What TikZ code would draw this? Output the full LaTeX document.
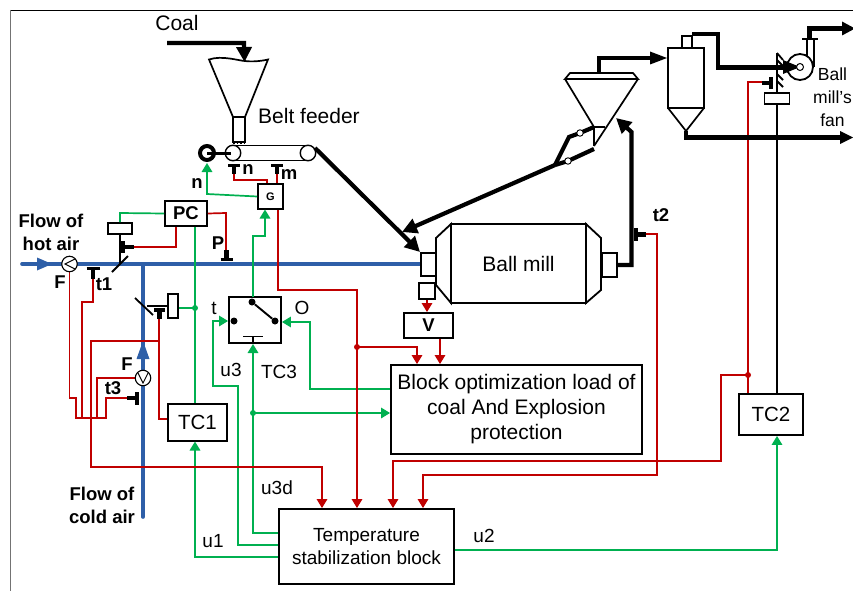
\documentclass[tikz,border=0pt]{standalone}
\usepackage{fontspec}
\setmainfont{Liberation Sans}
\usetikzlibrary{arrows.meta}
\definecolor{rd}{HTML}{C00000}
\definecolor{gn}{HTML}{00B050}
\definecolor{bl}{HTML}{2E5FA8}
\tikzset{
  fs/.style={font=\fontsize{19}{23}\selectfont},
  fl/.style={font=\fontsize{21}{25}\selectfont},
  fb/.style={font=\fontsize{18.5}{23}\selectfont\bfseries},
  lbl/.style={inner sep=0pt,align=center},
  box/.style={draw=black,line width=1.9pt,fill=white,inner sep=0pt,align=center},
  gp/.style={draw=black,line width=1.5pt},
  thick line/.style={draw=black,line width=4.2pt,line join=miter},
  rsig/.style={draw=rd,line width=1.7pt},
  gsig/.style={draw=gn,line width=1.7pt},
  bsig/.style={draw=bl,line width=3.6pt,line cap=round},
  rarr/.style={rsig,-{Triangle[length=9pt,width=10.5pt,fill=rd]}},
  garr/.style={gsig,-{Triangle[length=9pt,width=10.5pt,fill=gn]}},
  tarr/.style={thick line,-{Triangle[length=15pt,width=15pt,fill=black]}},
  sbar/.style={draw=black,line width=3.6pt},
  sstem/.style={draw=black,line width=4.2pt},
  gdot/.style={circle,fill=gn,inner sep=0pt,minimum size=6pt},
  rdot/.style={circle,fill=rd,inner sep=0pt,minimum size=6pt},
  kdot/.style={circle,fill=black,inner sep=0pt,minimum size=7pt},
  meter/.style={circle,draw=black,line width=1.1pt,fill=white,minimum size=15.5pt,inner sep=0pt},
}
\begin{document}
\begin{tikzpicture}[x=1pt,y=-1pt]
\useasboundingbox (0,0) rectangle (853,591);
% frame
\draw[black,line width=1pt] (10,10.5) -- (853,10.5);
\draw[black!55,line width=1pt] (10.5,10) -- (10.5,591);

% named boxes
\node[box,minimum width=42pt,minimum height=25pt,font=\fontsize{18.5}{22}\selectfont\bfseries] (pc) at (186,213.5) {PC};
\node[box,minimum width=25pt,minimum height=25pt,font=\fontsize{11}{13}\selectfont\bfseries] (g) at (270.5,196.5) {G};
\node[box,minimum width=59pt,minimum height=37pt,font=\fontsize{20.5}{24}\selectfont] (tc1) at (197.5,422.5) {TC1};
\node[box,minimum width=64pt,minimum height=41pt,font=\fontsize{20.5}{24}\selectfont] (tc2) at (771,414.5) {TC2};
\node[box,minimum width=52pt,minimum height=46pt] (sw) at (255,320) {};
\node[box,fs,minimum width=175pt,minimum height=75pt] (tsb) at (366.5,546.5) {Temperature\\stabilization block};
\node[box,fl,minimum width=251pt,minimum height=89pt] (opt) at (516.5,409.5) {Block optimization load of\\coal And Explosion\\protection};
\node[box,fb,minimum width=49pt,minimum height=25pt] (v) at (428.5,325.5) {V};
\node[box,minimum width=16pt,minimum height=16pt] (sq) at (427,291) {};
\node[box,minimum width=24pt,minimum height=11pt] (act1) at (120,228.5) {};
\node[box,minimum width=10pt,minimum height=24pt] (act2) at (173,306) {};
\node[box,minimum width=25pt,minimum height=11pt] (act3) at (777,98.5) {};

% named attachment points
\coordinate (f1) at (69.5,264);
\coordinate (f2) at (143,378);
\coordinate (d1) at (195,308);
\coordinate (d2) at (253,413);
\coordinate (d3) at (357,347);
\coordinate (d4) at (748,375);
\coordinate (millin) at (428,264);

% blue air lines
\draw[bsig] (22,264) -- (millin);
\draw[bsig] (143,264) -- (143,517);
\fill[bl] (52,264) -- (37,257.5) -- (37,270.5) -- cycle;
\fill[bl] (143,341) -- (136.5,359) -- (149.5,359) -- cycle;

% green signals
\draw[gsig] (act1.north) -- (120,213) -- (pc.west);
\draw[gsig] (pc.south -| d1) -- (tc1.north -| d1);
\draw[gsig] (d1) -- (act2.east |- d1);
\node[gdot] at (d1) {};
\draw[garr] (g.west) -- (207,194) -- (207,163);
\draw[garr] (253,297) -- (253,236) -- (265,236) -- (265,209.5);
\draw[garr] (tsb.west |- 0,533) -- (253,533) -- (253,344);
\draw[garr] (tsb.west |- 0,545) -- (238,545) -- (238,386) -- (213,386) -- (213,321) -- (sw.west |- 0,321);
\draw[garr] (tsb.west |- 0,557) -- (195,557) -- (195,441.5);
\draw[garr] (opt.west |- 0,389) -- (310,389) -- (310,322) -- (sw.east |- 0,322);
\draw[garr] (d2) -- (opt.west |- d2);
\node[gdot] at (d2) {};
\draw[garr] (tsb.east |- 0,550) -- (777,550) -- (tc2.south -| 777,0);

% red signals
\draw[rsig] (133,247) -- (176,247) -- (pc.south -| 176,0);
\draw[rsig] (pc.east) -- (226,213) -- (226,256);
\draw[rsig] (234,173) -- (234,180) -- (267,180) -- (g.north -| 267,0);
\draw[rsig] (277,172) -- (g.north -| 277,0);
\draw[rarr] (g.south -| 278,0) -- (278,290) -- (357,290) -- (tsb.north -| 357,0);
\draw[rarr] (d3) -- (417,347) -- (opt.north -| 417,0);
\node[rdot] at (d3) {};
\draw[rarr] (v.south -| 440,0) -- (opt.north -| 440,0);
\draw[rarr] (sq.south) -- (v.north -| sq.south);
\draw[rsig] (69.5,272) -- (69.5,398) -- (76,398) -- (76,418) -- (106,418) -- (106,398) -- (128,398);
\draw[rsig] (97,418) -- (97,378) -- (135,378);
\draw[rsig] (82,418) -- (82,302) -- (93,302) -- (93,278);
\draw[rarr] (159,318) -- (159,341) -- (91,341) -- (91,467) -- (322,467) -- (tsb.north -| 322,0);
\draw[rsig] (159,318) -- (159,419) -- (tc1.west |- 0,419);
\draw[rarr] (645,234) -- (657,234) -- (657,475) -- (423,475) -- (tsb.north -| 423,0);
\draw[rarr] (d4) -- (721,375) -- (721,461) -- (393,461) -- (tsb.north -| 393,0);
\draw[rsig] (762,82) -- (748,82) -- (tc2.north -| 748,0);
\node[rdot] at (d4) {};

% meters
\node[meter] (fm1) at (f1) {};
\draw[black,line width=.9pt] (75,259) -- (65,264) -- (75,269);
\node[meter] (fm2) at (f2) {};
\draw[black,line width=.9pt] (138,373) -- (143,383) -- (148,373);

% valve 1
\draw[gp] (act1.south) -- (120,264);
\draw[gp,line width=1.8pt] (112,272) -- (128,256);
\draw[sbar] (123,241) -- (123,253);
\draw[sstem] (123,247) -- (134,247);
% sensors on hot air
\draw[sbar] (220.5,259.5) -- (232.5,259.5);
\draw[sstem] (226.5,259) -- (226.5,250);
\draw[sbar] (86.5,268.5) -- (99.5,268.5);
\draw[sstem] (93,268) -- (93,279);
% valve 2
\draw[gp,line width=1.8pt] (135,298) -- (153,315);
\draw[gp,line width=1.8pt] (147,306) -- (act2.west);
\draw[sbar] (154,310) -- (165,310);
\draw[sstem] (159.5,310) -- (159.5,319);
% t3
\draw[sbar] (137,392) -- (137,405);
\draw[sstem] (137,398) -- (127,398);
% feeder sensors
\draw[sbar] (228,165.5) -- (240,165.5);
\draw[sstem] (234,165) -- (234,174);
\draw[sbar] (271,165.5) -- (283,165.5);
\draw[sstem] (277,165) -- (277,174);

% switch
\node[kdot] (s1) at (252,302) {};
\node[kdot] (s2) at (234,321) {};
\node[kdot] (s3) at (275,321) {};
\draw[gp,line width=1.9pt] (s1) -- (s3);
\draw[gp] (243,336.5) -- (263,336.5);
\draw[gp] (253,336.5) -- (253,343);

% coal + hopper
\draw[tarr] (167,43) -- (244,43) -- (244.5,62);
\draw[gp,line width=1.7pt] (209,59.5) .. controls (222,55) and (240,61) .. (245,61) .. controls (252,62) and (262,61) .. (268,59.5) -- (245,117) -- (233,117) -- cycle;
\draw[gp,line width=1.7pt,fill=white] (233,117) rectangle (245,142);
\draw[gp,dotted] (233,143.5) -- (245,143.5);
% belt
\draw[gp,line width=1.7pt] (233,145.5) -- (308,145.5);
\draw[gp,line width=1.7pt] (233,160.5) -- (308,160.5);
\node[meter,line width=1.4pt] (p1) at (233,153) {};
\node[meter,line width=1.4pt] (p2) at (308,153) {};
\node[circle,draw=black,line width=4pt,fill=white,minimum size=14pt,inner sep=0pt] (drv) at (207,153) {};
\draw[thick line,line width=3pt] (207,153) -- (231,153);
\draw[tarr] (315,148) -- (420,252);

% ball mill
\draw[gp,line width=1.8pt,fill=white] (451,224) -- (436,238) -- (436,285) -- (451,303) -- cycle;
\draw[gp,line width=1.8pt,fill=white] (586,224) -- (601,238) -- (601,290) -- (586,303) -- cycle;
\node[box,fl,minimum width=135pt,minimum height=79pt] (mill) at (518.5,263.5) {Ball mill};
\node[box,minimum width=15pt,minimum height=23pt] (inl) at (428.5,264.5) {};
\node[box,minimum width=15pt,minimum height=24pt] (outl) at (609.5,265) {};

% separator
\draw[gp,line width=1.7pt] (565,79) -- (570,73) -- (633,73) -- (638,79) -- cycle;
\draw[gp,line width=1.7pt] (565,79) -- (594,127) (638,79) -- (594,146);
\draw[gp,line width=1.7pt] (594,127) -- (594,146) (594,127) -- (605,127);
\draw[thick line] (594,127) -- (580,133) -- (569,137) -- (555,165);
\draw[thick line] (594,149) -- (568,161) -- (555,165);
\draw[tarr] (555,165) -- (402,232);
\node[circle,draw=black,line width=.9pt,fill=white,minimum size=6.5pt,inner sep=0pt] (c1) at (580,133) {};
\node[circle,draw=black,line width=.9pt,fill=white,minimum size=6.5pt,inner sep=0pt] (c2) at (568,161) {};
\draw[tarr] (outl.east) -- (631.5,265) -- (631.5,132) -- (616,118);
% t2
\draw[sbar] (636,228) -- (636,241);
\draw[sstem] (636,234.5) -- (646,234.5);

% cyclone
\draw[thick line] (599,73) -- (599,58) -- (655,58);
\fill[black] (667,58) -- (650,51.5) -- (650,64.5) -- cycle;
\draw[gp,line width=1.7pt] (682,48) -- (682,36) -- (692,36) -- (692,48);
\draw[gp,line width=1.7pt] (668,48) rectangle (704,108);
\draw[gp,line width=1.7pt] (668,108) -- (686,131) -- (704,108);
\draw[thick line] (692,34) -- (718,34) -- (718,67.5) -- (790,67.5);
\fill[black] (800,67) -- (783,60) -- (783,74) -- cycle;
\draw[thick line] (686,131) -- (686,137.5) -- (845,137.5);
\fill[black] (853,137.5) -- (840,131) -- (840,144) -- cycle;

% fan and damper
\draw[gp,line width=1.8pt] (act3.south) -- (tc2.north -| act3.south);
\draw[gp,line width=1.8pt] (777,53) -- (777,93);
\draw[gp,line width=1.8pt] (777,53) -- (783,60) (777,60) -- (783,66) (777,74) -- (783,80) (777,81) -- (783,87);
\draw[sbar] (771,77) -- (771,89);
\draw[sstem] (771,83) -- (762,83);
\draw[gp,line width=1.7pt] (807,39) -- (807,57) (814,39) -- (814,67);
\draw[gp,line width=1.7pt] (802,39) -- (818,39);
\node[circle,draw=black,line width=1.8pt,minimum size=26pt,inner sep=0pt] (fan) at (800,67) {};
\node[circle,draw=black,line width=1pt,fill=white,minimum size=7pt,inner sep=0pt] (hub) at (800,67) {};
\draw[thick line] (809.5,38) -- (809.5,28.5) -- (845,28.5);
\fill[black] (855,28.5) -- (842,21.5) -- (842,35.5) -- cycle;

% labels
\node[lbl,fl] (lcoal) at (177,23) {Coal};
\node[lbl,fl,anchor=west] (lbelt) at (258,116) {Belt feeder};
\node[lbl,fb] (lhot) at (51,232) {Flow of\\hot air};
\node[lbl,fb] (lcold) at (102,505) {Flow of\\cold air};
\node[lbl,fb] (lf1) at (60,282) {F};
\node[lbl,fb] (lf2) at (127,364) {F};
\node[lbl,fb] (lt1) at (104,284) {t1};
\node[lbl,fb] (lt2) at (661,215) {t2};
\node[lbl,fb] (lt3) at (113,388) {t3};
\node[lbl,fb] (lp) at (218,243) {P};
\node[lbl,fb] (ln1) at (197,184) {n};
\node[lbl,fb] (ln2) at (248,170) {n};
\node[lbl,fb] (lm) at (289,175) {m};
\node[lbl,fs] (lt) at (214,308) {t};
\node[lbl,fs] (lo) at (302,308) {O};
\node[lbl,fs] (lu3) at (231,370) {u3};
\node[lbl,fs] (ltc3) at (279,372) {TC3};
\node[lbl,fs] (lu3d) at (277,488) {u3d};
\node[lbl,fs] (lu1) at (213,541) {u1};
\node[lbl,fs] (lu2) at (484,536) {u2};
\node[lbl,font=\fontsize{17.5}{23}\selectfont] (lfan) at (832.5,97) {Ball\\mill’s\\fan};
\end{tikzpicture}
\end{document}
